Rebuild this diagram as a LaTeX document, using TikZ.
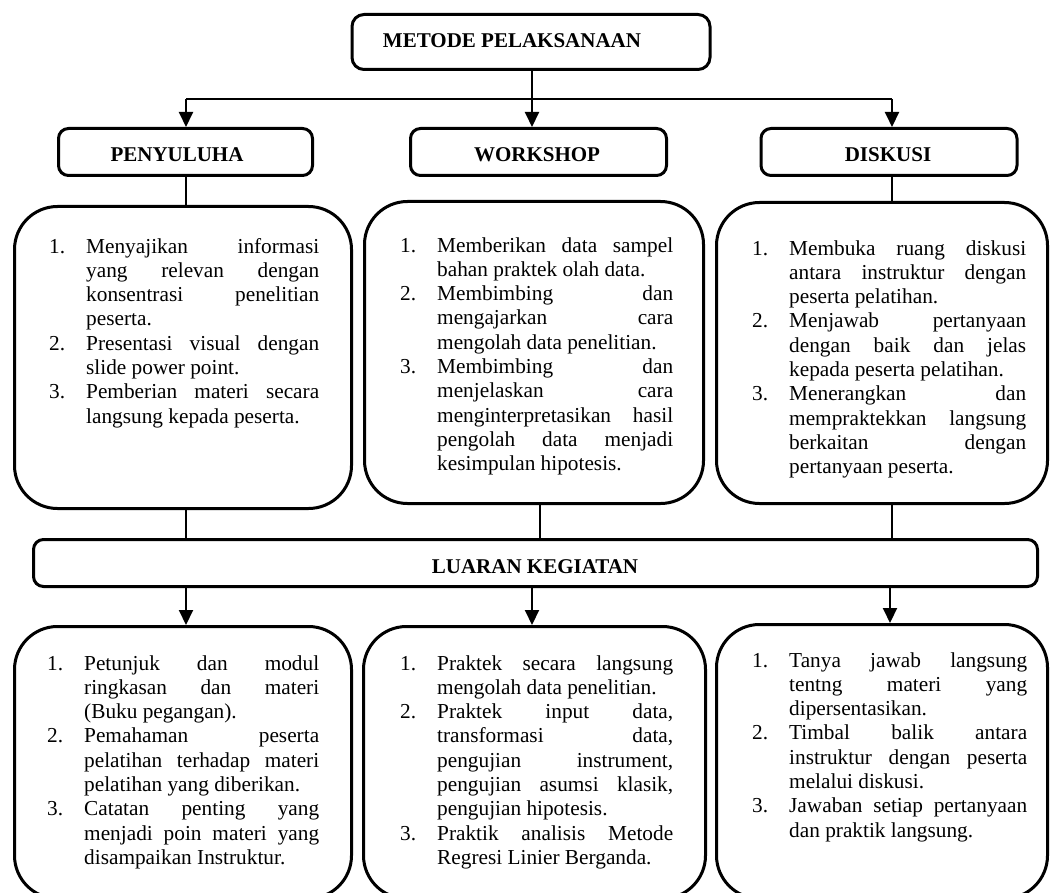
\documentclass[tikz,border=0pt]{standalone}
\usepackage{fontspec}
\setmainfont{Liberation Serif}
\usetikzlibrary{arrows.meta,calc}
\newcommand{\litem}[2]{\par\noindent\hangindent=37pt\hangafter=1\makebox[37pt][l]{#1}#2}
\newcommand{\itembox}[2]{\parbox[t]{#1}{\fontsize{21.3}{24.3}\selectfont\hyphenpenalty=10000\exhyphenpenalty=10000\tolerance=10000\emergencystretch=0pt\parfillskip=0pt plus 1fil #2\par}}
\begin{document}
\begin{tikzpicture}[x=1pt,y=-1pt,
  box/.style={draw, line width=3pt, rounded corners=#1, inner sep=0pt},
  box/.default=43pt,
  conn/.style={line width=2pt},
  arr/.style={line width=2pt, -{Triangle[length=15pt,width=14pt]}},
  title/.style={font=\fontsize{21}{24}\selectfont\bfseries, inner sep=0pt},
  body/.style={anchor=base west, inner sep=0pt}]
\useasboundingbox (0,0) rectangle (1051,893);
\clip (0,0) rectangle (1051,893);

% header boxes
\node[box=12pt, minimum width=358pt, minimum height=55pt] (met) at (531,42) {};
\node[title] (metT) at (512,41) {METODE PELAKSANAAN};
\node[box=10pt, minimum width=254pt, minimum height=47pt] (pen) at (185.5,152) {};
\node[title] (penT) at (177,155) {PENYULUHA};
\node[box=10pt, minimum width=256pt, minimum height=47pt] (wor) at (538.5,152) {};
\node[title] (worT) at (537,155) {WORKSHOP};
\node[box=10pt, minimum width=256pt, minimum height=47pt] (dis) at (889,152) {};
\node[title] (disT) at (888,155) {DISKUSI};

% content boxes (upper)
\node[box, minimum width=337pt, minimum height=302pt] (b1) at (183,357.5) {};
\node[box, minimum width=339pt, minimum height=302pt] (b2) at (534,352.5) {};
\node[box, minimum width=331pt, minimum height=301pt] (b3) at (882,353) {};

% luaran
\node[box=10pt, minimum width=1004pt, minimum height=47pt] (lua) at (535.5,563) {};
\node[title] (luaT) at (535,567) {LUARAN KEGIATAN};

% content boxes (lower)
\node[box, minimum width=337pt, minimum height=272pt] (c1) at (183,762.5) {};
\node[box, minimum width=342pt, minimum height=272pt] (c2) at (534.5,762.5) {};
\node[box, minimum width=331pt, minimum height=274pt] (c3) at (882,761.5) {};

% connectors
\coordinate (jl) at (186,99);
\coordinate (jn) at (532,99);
\coordinate (jr) at (892,99);
\coordinate (m2) at (540,0);
\coordinate (j3) at (890,0);
\draw[conn] (met.south -| jn) -- (jn);
\draw[conn] (jl) -- (jr);
\draw[arr] (jl) -- (jl |- pen.north);
\draw[arr] (jn) -- (jn |- wor.north);
\draw[arr] (jr) -- (jr |- dis.north);
\draw[conn] (pen.south -| jl) -- (jl |- b1.north);
\draw[conn] (dis.south -| jr) -- (jr |- b3.north);
\draw[conn] (b1.south -| jl) -- (jl |- lua.north);
\draw[conn] (b2.south -| m2) -- (m2 |- lua.north);
\draw[conn] (b3.south -| jr) -- (jr |- lua.north);
\draw[arr] (lua.south -| jl) -- (jl |- c1.north);
\draw[arr] (lua.south -| jn) -- (jn |- c2.north);
\draw[arr] (lua.south -| j3) -- (j3 |- c3.north);

% texts
\node[body] (t1) at (49,253) {\itembox{270pt}{%
\litem{1.}{Menyajikan informasi\linebreak yang relevan dengan\linebreak konsentrasi penelitian\linebreak peserta.}%
\litem{2.}{Presentasi visual dengan\linebreak slide power point.}%
\litem{3.}{Pemberian materi secara\linebreak langsung kepada peserta.}}};

\node[body] (t2) at (400,252) {\itembox{273pt}{%
\litem{1.}{Memberikan data sampel\linebreak bahan praktek olah data.}%
\litem{2.}{Membimbing dan\linebreak mengajarkan cara\linebreak mengolah data penelitian.}%
\litem{3.}{Membimbing dan\linebreak menjelaskan cara\linebreak menginterpretasikan hasil\linebreak pengolah data menjadi\linebreak kesimpulan hipotesis.}}};

\node[body] (t3) at (752,255) {\itembox{274pt}{%
\litem{1.}{Membuka ruang diskusi\linebreak antara instruktur dengan\linebreak peserta pelatihan.}%
\litem{2.}{Menjawab pertanyaan\linebreak dengan baik dan jelas\linebreak kepada peserta pelatihan.}%
\litem{3.}{Menerangkan dan\linebreak mempraktekkan langsung\linebreak berkaitan dengan\linebreak pertanyaan peserta.}}};

\node[body] (u1) at (47,670) {\itembox{272pt}{%
\litem{1.}{Petunjuk dan modul\linebreak ringkasan dan materi\linebreak (Buku pegangan).}%
\litem{2.}{Pemahaman peserta\linebreak pelatihan terhadap materi\linebreak pelatihan yang diberikan.}%
\litem{3.}{Catatan penting yang\linebreak menjadi poin materi yang\linebreak disampaikan Instruktur.}}};

\node[body] (u2) at (400,670) {\itembox{273pt}{%
\litem{1.}{Praktek secara langsung\linebreak mengolah data penelitian.}%
\litem{2.}{Praktek input data,\linebreak transformasi data,\linebreak pengujian instrument,\linebreak pengujian asumsi klasik,\linebreak pengujian hipotesis.}%
\litem{3.}{Praktik analisis Metode\linebreak Regresi Linier Berganda.}}};

\node[body] (u3) at (752,667) {\itembox{275pt}{%
\litem{1.}{Tanya jawab langsung\linebreak tentng materi yang\linebreak dipersentasikan.}%
\litem{2.}{Timbal balik antara\linebreak instruktur dengan peserta\linebreak melalui diskusi.}%
\litem{3.}{Jawaban setiap pertanyaan\linebreak dan praktik langsung.}}};
\end{tikzpicture}
\end{document}
